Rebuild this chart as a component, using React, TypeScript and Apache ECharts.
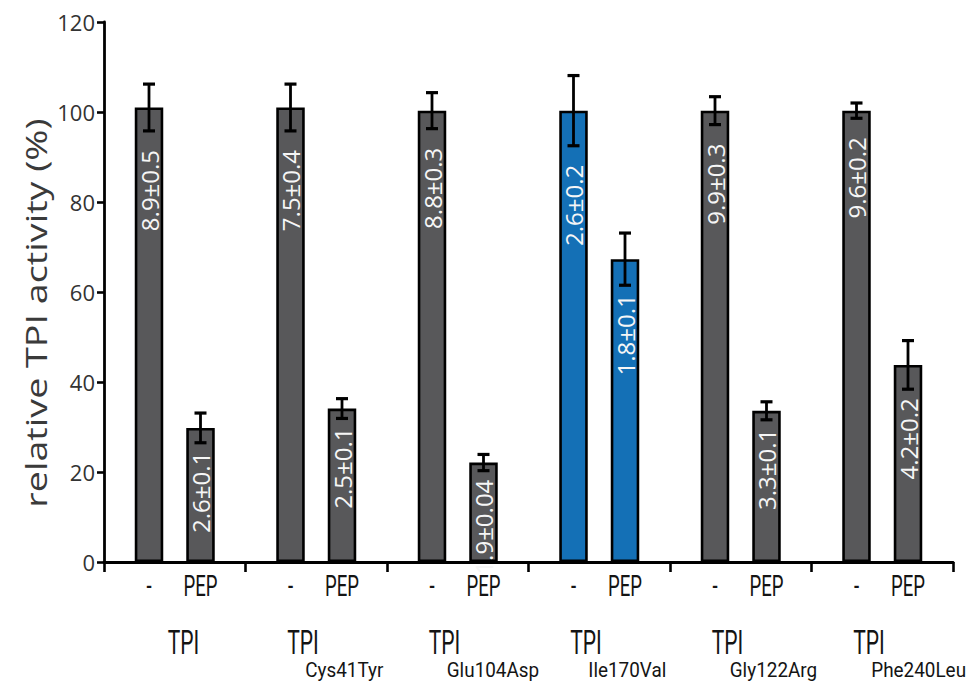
import React, { useEffect, useRef } from 'react';
import * as echarts from 'echarts';

// ---- data ----
const groupNames = ['TPI', 'TPI', 'TPI', 'TPI', 'TPI', 'TPI'];
const mutations = ['', 'Cys41Tyr', 'Glu104Asp', 'Ile170Val', 'Gly122Arg', 'Phe240Leu'];
const treatments = ['-', 'PEP'];
const controlValues = [101, 101, 100.3, 100.3, 100.3, 100.3];
const controlErrors = [5.2, 5.2, 4.0, 7.8, 3.1, 1.7];
const pepValues = [29.8, 34.1, 22.1, 67.3, 33.6, 43.8];
const pepErrors = [3.3, 2.2, 1.8, 5.8, 2.0, 5.4];
const controlLabels = ['8.9±0.5', '7.5±0.4', '8.8±0.3', '2.6±0.2', '9.9±0.3', '9.6±0.2'];
const pepLabels = ['2.6±0.1', '2.5±0.1', '1.9±0.04', '1.8±0.1', '3.3±0.1', '4.2±0.2'];
const highlightIndex = 3;
const yMin = 0;
const yMax = 120;
const yStep = 20;
const yTitle = 'relative TPI activity (%)';

// ---- styles ----
const GRAY = '#58585a';
const BLUE = '#1470b6';
const BAR_W = 28.5;
const BAR_GAP_PX = 23;
const HALF_SPAN = (BAR_W + BAR_GAP_PX) / 2;

const categoryKeys = groupNames.map((g, i) => (mutations[i] ? `${g} ${mutations[i]}` : g));

export default function App() {
  const ref = useRef<HTMLDivElement>(null);
  useEffect(() => {
    if (!ref.current) return;
    const chart = echarts.init(ref.current, undefined, { renderer: 'svg' });

    const valueSets = [controlValues, pepValues];
    const errorSets = [controlErrors, pepErrors];
    const labelSets = [controlLabels, pepLabels];
    const labelGaps = [19, 9];

    const renderItem = (params: any, api: any) => {
      const i = params.dataIndex;
      const base = api.coord([i, 0]);
      const x0 = base[0];
      const y0 = base[1];
      const children: any[] = [];
      for (let j = 0; j < 2; j++) {
        const cx = x0 + (j === 0 ? -HALF_SPAN : HALF_SPAN);
        const v = valueSets[j][i];
        const e = errorSets[j][i];
        const yt = api.coord([i, v + e])[1];
        const yb = api.coord([i, v - e])[1];
        children.push({
          type: 'line',
          shape: { x1: cx, y1: yt, x2: cx, y2: yb },
          style: { stroke: '#000', lineWidth: 2.8 },
        });
        children.push({
          type: 'line',
          shape: { x1: cx - 6, y1: yt, x2: cx + 6, y2: yt },
          style: { stroke: '#000', lineWidth: 3.2 },
        });
        children.push({
          type: 'line',
          shape: { x1: cx - 6, y1: yb, x2: cx + 6, y2: yb },
          style: { stroke: '#000', lineWidth: 3.2 },
        });
        children.push({
          type: 'text',
          x: cx,
          y: yb + labelGaps[j],
          rotation: Math.PI / 2,
          style: {
            text: labelSets[j][i],
            fill: '#f6f6f6',
            fontSize: 24,
            fontFamily: 'Open Sans',
            align: 'right',
            verticalAlign: 'middle',
          },
        });
        children.push({
          type: 'text',
          x: cx,
          y: y0 + 24,
          scaleX: 0.62,
          style: {
            text: treatments[j],
            fill: '#141414',
            fontSize: 30,
            fontFamily: 'Roboto',
            align: 'center',
            verticalAlign: 'middle',
          },
        });
      }
      const hasMut = !!mutations[i];
      children.push({
        type: 'text',
        x: hasMut ? x0 - 29 : x0 - 7,
        y: y0 + 81,
        scaleX: 0.62,
        style: {
          text: groupNames[i],
          fill: '#141414',
          fontSize: 34,
          fontFamily: 'Roboto',
          align: 'left',
          verticalAlign: 'middle',
        },
      });
      if (hasMut) {
        children.push({
          type: 'text',
          x: x0 - 11,
          y: y0 + 108,
          scaleX: 0.9,
          style: {
            text: mutations[i],
            fill: '#141414',
            fontSize: 21,
            fontFamily: 'Roboto',
            align: 'left',
            verticalAlign: 'middle',
          },
        });
      }
      return { type: 'group', children };
    };

    const barData = (vals: number[]) =>
      vals.map((v, i) => (i === highlightIndex ? { value: v, itemStyle: { color: BLUE } } : v));

    chart.setOption({
      animation: false,
      backgroundColor: '#fff',
      grid: { left: 104, right: 23, top: 22, bottom: 129, containLabel: false },
      xAxis: {
        type: 'category',
        data: categoryKeys,
        boundaryGap: true,
        axisLine: { lineStyle: { color: '#000', width: 2.8 } },
        axisTick: { show: true, length: 10, lineStyle: { color: '#000', width: 2.6 } },
        axisLabel: { show: false },
        splitLine: { show: false },
      },
      yAxis: {
        type: 'value',
        min: yMin,
        max: yMax,
        interval: yStep,
        axisLine: { show: true, lineStyle: { color: '#000', width: 2.8 } },
        axisTick: { show: true, length: 7, lineStyle: { color: '#000', width: 2.6 } },
        axisLabel: { fontSize: 22, color: '#333', fontFamily: 'Open Sans', margin: 9 },
        splitLine: { show: false },
      },
      graphic: [
        {
          type: 'text',
          x: 36,
          y: 313,
          rotation: Math.PI / 2,
          scaleX: 1.3,
          style: {
            text: yTitle,
            fill: '#3a3a3a',
            fontSize: 29,
            fontFamily: 'Open Sans',
            align: 'center',
            verticalAlign: 'middle',
          },
        },
      ],
      series: [
        {
          type: 'bar',
          name: treatments[0],
          data: barData(controlValues),
          barWidth: BAR_W,
          barGap: `${(BAR_GAP_PX / BAR_W) * 100}%`,
          itemStyle: { color: GRAY, borderColor: '#000', borderWidth: 2.6 },
          z: 2,
        },
        {
          type: 'bar',
          name: treatments[1],
          data: barData(pepValues),
          barWidth: BAR_W,
          barGap: `${(BAR_GAP_PX / BAR_W) * 100}%`,
          itemStyle: { color: GRAY, borderColor: '#000', borderWidth: 2.6 },
          z: 2,
        },
        {
          type: 'custom',
          data: categoryKeys.map((_, i) => [i, controlValues[i]]),
          encode: { x: 0, y: 1 },
          renderItem,
          clip: false,
          z: 5,
          silent: true,
        },
      ],
    });
    return () => chart.dispose();
  }, []);
  return (
    <div
      ref={ref}
      style={{ position: 'fixed', left: 0, top: 0, width: 976, height: 691, background: '#fff' }}
    />
  );
}
